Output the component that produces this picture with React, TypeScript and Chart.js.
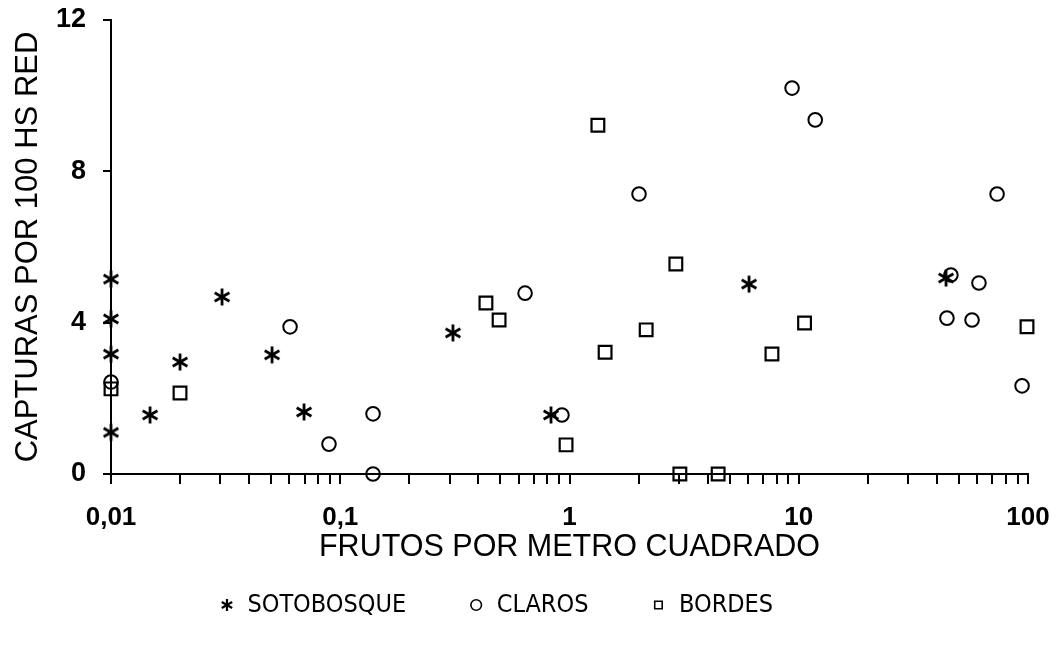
import React, { useEffect, useRef } from 'react';
import { Chart, registerables } from 'chart.js';

Chart.register(...registerables);

// Captures per 100 net-hours vs. fruit density, by habitat
const SOTOBOSQUE_X = [0.01, 0.01, 0.01, 0.01, 0.0148, 0.02, 0.0305, 0.0504, 0.0695, 0.31, 0.83, 6.07, 43.9];
const SOTOBOSQUE_Y = [5.15, 4.1, 3.17, 1.1, 1.56, 2.96, 4.68, 3.15, 1.64, 3.73, 1.56, 5.02, 5.18];

const CLAROS_X = [0.01, 0.0604, 0.0893, 0.139, 0.139, 0.64, 0.927, 2.01, 9.35, 11.8, 73.3, 46.1, 61.1, 44.3, 57.0, 94.2];
const CLAROS_Y = [2.43, 3.89, 0.79, 0, 1.59, 4.78, 1.56, 7.4, 10.2, 9.36, 7.4, 5.26, 5.05, 4.12, 4.07, 2.33];

const BORDES_X = [0.01, 0.02, 0.432, 0.493, 0.966, 1.43, 1.33, 2.16, 2.91, 3.03, 4.45, 7.64, 10.6, 99];
const BORDES_Y = [2.25, 2.14, 4.52, 4.07, 0.77, 3.22, 9.22, 3.81, 5.55, 0, 0, 3.17, 3.99, 3.89];

const SERIES_NAMES = ['SOTOBOSQUE', 'CLAROS', 'BORDES'];

const X_DECADES = [0.01, 0.1, 1, 10, 100];
const X_DECADE_LABELS = ['0,01', '0,1', '1', '10', '100'];
const Y_MIN = 0;
const Y_MAX = 12;
const Y_STEP = 4;

const X_TITLE = 'FRUTOS POR METRO CUADRADO';
const Y_TITLE = 'CAPTURAS POR 100 HS RED';

const FONT = '"Liberation Sans", Arial, Helvetica, sans-serif';
const FONT_NARROW = '"Liberation Sans Narrow", "Arial Narrow", "DejaVu Sans Condensed", sans-serif';

// Horizontal nudge applied to the legend row
const LEGEND_SHIFT = -18;

function toPoints(xs: number[], ys: number[]) {
  return xs.map((x, i) => ({ x, y: ys[i] }));
}

// Six-spoke asterisk used as a point style
function makeAsterisk(size: number, len: number, lw: number): HTMLCanvasElement {
  const c = document.createElement('canvas');
  c.width = size;
  c.height = size;
  const ctx = c.getContext('2d')!;
  ctx.strokeStyle = '#000';
  ctx.lineWidth = lw;
  const m = size / 2;
  [90, 30, 150].forEach((deg) => {
    const r = (deg * Math.PI) / 180;
    ctx.beginPath();
    ctx.moveTo(m - len * Math.cos(r), m - len * Math.sin(r));
    ctx.lineTo(m + len * Math.cos(r), m + len * Math.sin(r));
    ctx.stroke();
  });
  return c;
}

// Log ticks at 1..9 times each decade
function logTickValues(): number[] {
  const out: number[] = [];
  for (let d = 0; d < X_DECADES.length - 1; d++) {
    for (let k = 1; k <= 9; k++) {
      out.push(parseFloat((k * X_DECADES[d]).toPrecision(4)));
    }
  }
  out.push(X_DECADES[X_DECADES.length - 1]);
  return out;
}

function clearScalePadding(scale: any) {
  scale.paddingTop = 0;
  scale.paddingBottom = 0;
  scale.paddingLeft = 0;
  scale.paddingRight = 0;
}

const legendShift = {
  id: 'legendShift',
  afterLayout(chart: any) {
    if (chart.legend) {
      chart.legend.left += LEGEND_SHIFT;
      chart.legend.right += LEGEND_SHIFT;
    }
  },
};

export default function App() {
  const canvasRef = useRef<HTMLCanvasElement | null>(null);

  useEffect(() => {
    if (!canvasRef.current) return;
    const asterisk = makeAsterisk(22, 8.5, 2.8);
    const asteriskSmall = makeAsterisk(16, 6, 2.2);

    const chart = new Chart(canvasRef.current, {
      type: 'scatter',
      data: {
        datasets: [
          {
            label: SERIES_NAMES[0],
            data: toPoints(SOTOBOSQUE_X, SOTOBOSQUE_Y),
            pointStyle: asterisk as any,
            pointRadius: 7,
            borderColor: '#000',
            backgroundColor: 'rgba(0,0,0,0)',
            pointBorderWidth: 2,
            clip: false,
          },
          {
            label: SERIES_NAMES[1],
            data: toPoints(CLAROS_X, CLAROS_Y),
            pointStyle: 'circle',
            pointRadius: 6.8,
            borderColor: '#000',
            backgroundColor: 'rgba(0,0,0,0)',
            pointBorderWidth: 2,
            clip: false,
          },
          {
            label: SERIES_NAMES[2],
            data: toPoints(BORDES_X, BORDES_Y),
            pointStyle: 'rect',
            pointRadius: 9,
            borderColor: '#000',
            backgroundColor: 'rgba(0,0,0,0)',
            pointBorderWidth: 2.2,
            clip: false,
          },
        ],
      },
      plugins: [legendShift],
      options: {
        responsive: false,
        animation: false,
        layout: { padding: { left: 0, right: 27, top: 20, bottom: 18.5 } },
        plugins: {
          tooltip: { enabled: false },
          legend: {
            position: 'bottom',
            labels: {
              color: '#000',
              font: { family: FONT_NARROW, size: 25 },
              usePointStyle: true,
              boxWidth: 16,
              boxHeight: 7.5,
              padding: 62,
              generateLabels: (ch: any) => {
                const items = Chart.defaults.plugins.legend.labels.generateLabels(ch);
                return items.map((it: any, i: number) =>
                  i === 0 ? { ...it, pointStyle: asteriskSmall } : { ...it, lineWidth: 1.6 }
                );
              },
            },
          },
        },
        scales: {
          x: {
            type: 'logarithmic',
            min: X_DECADES[0],
            max: X_DECADES[X_DECADES.length - 1],
            afterBuildTicks: (scale: any) => {
              scale.ticks = logTickValues().map((v) => ({ value: v }));
            },
            afterFit: (scale: any) => {
              scale.height = 56.5;
              clearScalePadding(scale);
            },
            border: { display: true, color: '#000', width: 2 },
            grid: {
              drawOnChartArea: false,
              drawTicks: true,
              tickLength: 10,
              color: '#000',
              lineWidth: 2,
            },
            ticks: {
              autoSkip: false,
              maxRotation: 0,
              minRotation: 0,
              padding: 18,
              color: '#000',
              font: { family: FONT, size: 26, weight: 'bold' },
              callback: (value: any) => {
                const idx = X_DECADES.findIndex((d) => Math.abs(d - Number(value)) < d * 1e-6);
                return idx >= 0 ? X_DECADE_LABELS[idx] : '';
              },
            },
            title: {
              display: true,
              text: X_TITLE,
              color: '#000',
              font: { family: FONT, size: 30.5 },
              padding: { top: 0, bottom: -35.8 },
            },
          },
          y: {
            min: Y_MIN,
            max: Y_MAX,
            afterFit: (scale: any) => {
              scale.width = 111;
              clearScalePadding(scale);
            },
            border: { display: true, color: '#000', width: 2 },
            grid: {
              drawOnChartArea: false,
              drawTicks: true,
              tickLength: 8,
              color: '#000',
              lineWidth: 2,
            },
            ticks: {
              stepSize: Y_STEP,
              padding: 17,
              color: '#000',
              font: { family: FONT, size: 27, weight: 'bold' },
            },
            title: {
              display: true,
              text: Y_TITLE,
              color: '#000',
              font: { family: FONT, size: 31 },
              padding: { top: 10, bottom: 0 },
            },
          },
        },
      },
    } as any);

    return () => chart.destroy();
  }, []);

  return (
    <div style={{ position: 'absolute', left: 0, top: 0, width: 1055, height: 646, background: '#fff' }}>
      <canvas ref={canvasRef} width={1055} height={646} style={{ display: 'block' }} />
    </div>
  );
}
